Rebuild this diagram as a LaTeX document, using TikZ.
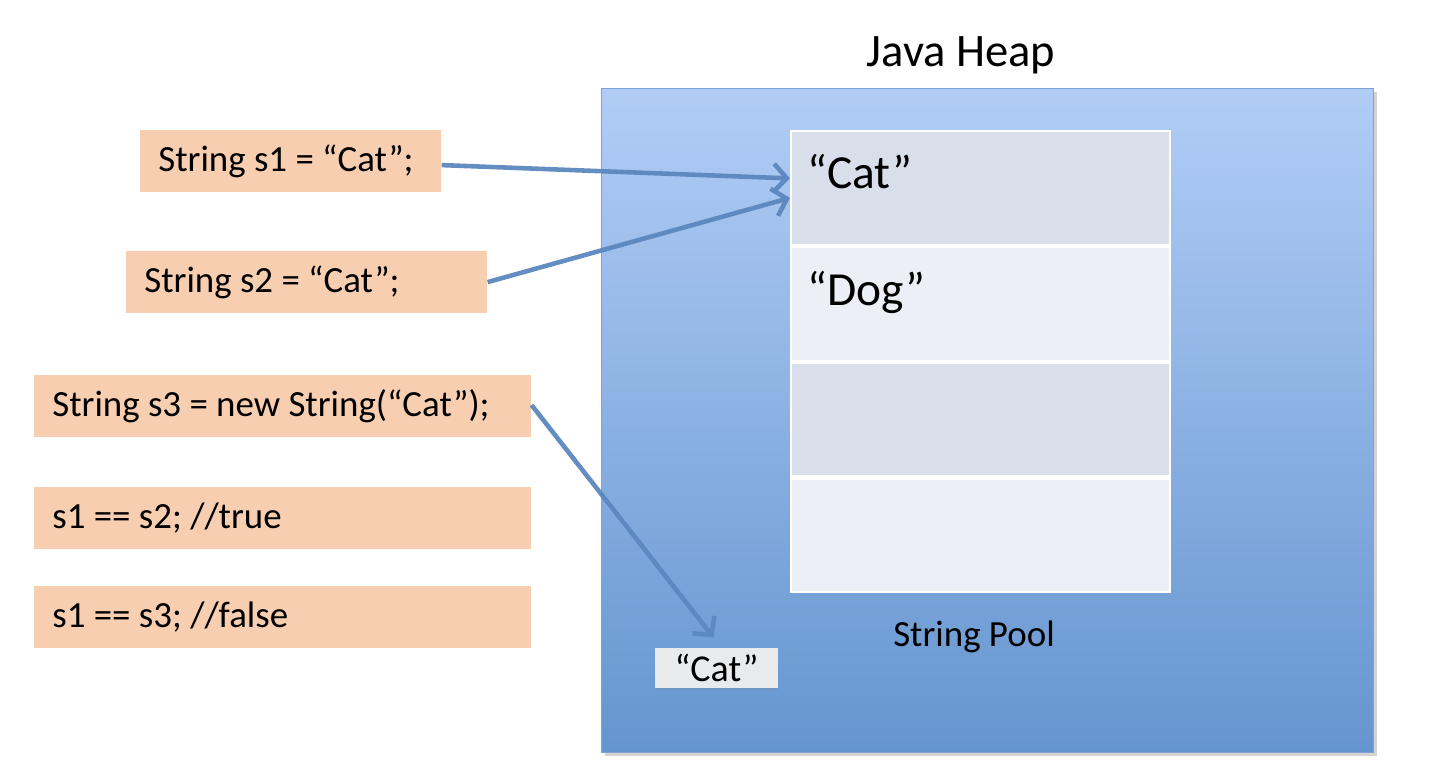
\documentclass[tikz,border=0pt]{standalone}
\usepackage{fontspec}
\setmainfont{Carlito}
\usepackage{xcolor}
\usepackage{tikz}
\usetikzlibrary{positioning, arrows.meta, shadows}
\definecolor{codefill}{HTML}{F8CEB1}
\definecolor{heaptop}{HTML}{B1CDF6}
\definecolor{heapbot}{HTML}{6595CF}
\definecolor{heapline}{HTML}{7EA2D3}
\definecolor{pooldark}{HTML}{D9DFEA}
\definecolor{poollight}{HTML}{ECEFF5}
\definecolor{refblue}{HTML}{5C87BF}
\definecolor{objfill}{HTML}{E9EAEC}

\tikzset{
  codebox/.style={fill=codefill, anchor=north west, inner xsep=0.36cm,
    minimum height=1.23cm, text width=#1, align=flush left,
    font=\fontsize{21}{25}\selectfont},
  poolrow/.style={draw=white, line width=1.2pt, anchor=north,
    minimum width=7.58cm, minimum height=2.275cm, inner sep=0pt},
  pooltext/.style={anchor=west, inner sep=0pt,
    font=\fontsize{27}{32}\selectfont},
  ref/.style={draw=refblue, line width=2.6pt, opacity=0.95,
    -{Straight Barb[length=7.5pt, width=16pt]}}
}

\begin{document}
\begin{tikzpicture}[x=0.02cm, y=-0.02cm]
  \useasboundingbox (0,0) rectangle (1444,780);

  \node[draw=heapline, line width=0.8pt, top color=heaptop, bottom color=heapbot,
        drop shadow={opacity=0.35, shadow xshift=2pt, shadow yshift=-2pt},
        anchor=north west, minimum width=15.44cm, minimum height=13.28cm,
        inner sep=0pt] (heap) at (601,88) {};
  \node[font=\fontsize{26.5}{31}\selectfont] (heaplabel) at (961,55) {Java Heap};

  \node[poolrow, fill=pooldark] (row1) at (980.5,130) {};
  \node[poolrow, fill=poollight, below=0pt of row1] (row2) {};
  \node[poolrow, fill=pooldark, below=0pt of row2] (row3) {};
  \node[poolrow, fill=poollight, below=0pt of row3] (row4) {};
  \node[pooltext] (catval) at ([xshift=0.34cm, yshift=-0.84cm]row1.north west) {“Cat”};
  \node[pooltext] (dogval) at ([xshift=0.34cm, yshift=-0.94cm]row2.north west) {“Dog”};
  \node[font=\fontsize{21}{25}\selectfont] (poollabel) at (974,637) {String Pool};

  \node[fill=objfill, minimum width=2.46cm, minimum height=0.8cm, inner sep=0pt,
        drop shadow={opacity=0.15, shadow xshift=0pt, shadow yshift=-1.5pt},
        font=\fontsize{21.6}{25}\selectfont] (newcat) at (716.5,668) {“Cat”};

  \node[codebox=5.30cm] (s1) at (140,130) {String s1 = “Cat”;};
  \node[codebox=6.50cm] (s2) at (126,251) {String s2 = “Cat”;};
  \node[codebox=9.22cm] (s3) at (34,375) {String s3 = new String(“Cat”);};
  \node[codebox=9.22cm] (eq1) at (34,487) {s1 == s2; //true};
  \node[codebox=9.22cm] (eq2) at (34,586) {s1 == s3; //false};

  \draw[ref] ([yshift=-0.08cm]s1.east) -- ([yshift=0.19cm]row1.west);
  \draw[ref] (s2.east) -- ([yshift=-0.2cm]row1.west);
  \draw[ref, shorten >=0.26cm] ([yshift=0.02cm]s3.east) -- ([xshift=0.1cm]newcat.north);
\end{tikzpicture}
\end{document}
